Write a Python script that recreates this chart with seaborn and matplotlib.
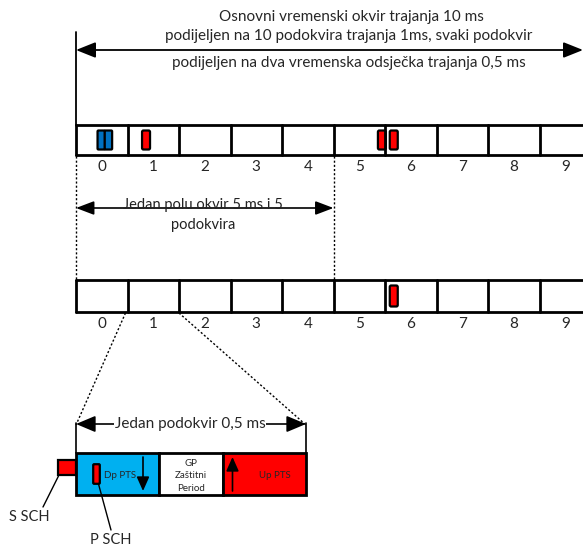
import matplotlib
matplotlib.use('Agg')
import matplotlib.pyplot as plt
from matplotlib.patches import Rectangle, FancyBboxPatch
import seaborn as sns

# subframes and PSS/SSS positions (in subframe units)
subframes = ['0', '1', '2', '3', '4', '5', '6', '7', '8', '9']
row1_blue = [0.56]
row1_red = [1.36, 5.94, 6.17]
row2_red = [6.17]
top_text = ['Osnovni vremenski okvir trajanja 10 ms',
            'podijeljen na 10 podokvira trajanja 1ms, svaki podokvir',
            'podijeljen na dva vremenska odsječka trajanja 0,5 ms']
half_text = ['Jedan polu okvir 5 ms i 5', 'podokvira']
sub_text = 'Jedan podokvir 0,5 ms'
parts = ['Dp PTS', 'GP\nZaštitni\nPeriod', 'Up PTS']
part_colors = ['#00B0F0', '#FFFFFF', '#FF0000']
part_widths = [83, 64, 83]

sns.set_theme(style='white')
plt.rcParams['font.family'] = ['Lato', 'DejaVu Sans']

fig = plt.figure(figsize=(5.83, 5.48), dpi=100)
ax = fig.add_axes([0, 0, 1, 1])
ax.set_xlim(0, 583)
ax.set_ylim(548, 0)
ax.axis('off')

x0 = 76
cw = 51.5


def sx(v):
    return x0 + v * cw


def arrow(xa, xb, y, lw=1.3, hl=1.0, hw=0.4, ms=12):
    ax.annotate('', xy=(xb, y), xytext=(xa, y),
                arrowprops=dict(arrowstyle='<|-|>,head_length=%g,head_width=%g' % (hl, hw),
                                mutation_scale=ms, color='black', lw=lw,
                                shrinkA=0, shrinkB=0))


def frame_row(ytop, ybot, reds, blues):
    ax.plot([x0, 583], [ytop, ytop], color='black', lw=2)
    ax.plot([x0, 583], [ybot, ybot], color='black', lw=2)
    for i in range(len(subframes)):
        ax.plot([sx(i), sx(i)], [ytop, ybot], color='black', lw=2)
        ax.text(sx(i + 0.5), ybot + 12, subframes[i], ha='center', va='center', fontsize=11)
    for r in reds:
        ax.add_patch(FancyBboxPatch((sx(r) - 3.5, ytop + 6), 7, ybot - ytop - 12,
                                    boxstyle='round,pad=0.5,rounding_size=1.5',
                                    fc='#FF0000', ec='black', lw=1.6))
    for b in blues:
        for dx in (-3.6, 3.6):
            ax.add_patch(FancyBboxPatch((sx(b) + dx - 3.2, ytop + 6), 6.4, ybot - ytop - 12,
                                        boxstyle='round,pad=0.5,rounding_size=1',
                                        fc='#0070C0', ec='black', lw=1.6))


# top annotation
ax.plot([x0, x0], [32, 125], color='black', lw=1.3)
arrow(x0, 583, 50)
ax.text(351, 17, top_text[0], ha='center', va='center', fontsize=11)
ax.text(349, 36, top_text[1], ha='center', va='center', fontsize=11)
ax.text(349, 63, top_text[2], ha='center', va='center', fontsize=11)

frame_row(125, 155, row1_red, row1_blue)

# half frame
for xx in (sx(0), sx(5)):
    ax.plot([xx, xx], [156, 280], color='black', lw=1, ls=(0, (1.5, 1.5)))
arrow(sx(0), sx(5), 208, lw=1.2, hl=1.0, hw=0.38, ms=11)
ax.text(203, 205, half_text[0], ha='center', va='center', fontsize=10.5, color='#222222')
ax.text(203, 225, half_text[1], ha='center', va='center', fontsize=10.5, color='#222222')

frame_row(280, 312, row2_red, [])

# zoom lines to one slot
bx0, by0, by1 = 76, 453, 495
bx1 = bx0 + sum(part_widths)
ax.plot([sx(1) - 2, bx0], [313, 425], color='black', lw=1, ls=(0, (1.5, 1.5)))
ax.plot([sx(2), bx1], [313, 425], color='black', lw=1, ls=(0, (1.5, 1.5)))
for xx in (bx0, bx1):
    ax.plot([xx, xx], [423, by0], color='black', lw=1.2)
arrow(bx0, bx1, 424, lw=1.2, hl=1.0, hw=0.42, ms=12)
ax.text((bx0 + bx1) / 2 - 1, 424, sub_text, ha='center', va='center', fontsize=11,
        bbox=dict(fc='white', ec='none', pad=0.5))

# slot parts
xx = bx0
for name, c, w in zip(parts, part_colors, part_widths):
    ax.add_patch(Rectangle((xx, by0), w, by1 - by0, fc=c, ec='black', lw=2))
    if name == 'Dp PTS':
        ax.text(xx + 44, 475, name, ha='center', va='center', fontsize=7)
        arrow_x = xx + 67
        ax.annotate('', xy=(arrow_x, 491), xytext=(arrow_x, 457),
                    arrowprops=dict(arrowstyle='-|>,head_length=0.85,head_width=0.38',
                                    mutation_scale=10, color='black', lw=1.2,
                                    shrinkA=0, shrinkB=0))
    elif name == 'Up PTS':
        ax.text(xx + 52, 476, name, ha='center', va='center', fontsize=7)
        arrow_x = xx + 9.5
        ax.annotate('', xy=(arrow_x, 457), xytext=(arrow_x, 491),
                    arrowprops=dict(arrowstyle='-|>,head_length=0.85,head_width=0.38',
                                    mutation_scale=10, color='black', lw=1.2,
                                    shrinkA=0, shrinkB=0))
    else:
        ax.text(xx + w / 2, 476, name, ha='center', va='center', fontsize=7,
                linespacing=1.5)
    xx += w

# S SCH / P SCH
ax.add_patch(Rectangle((58, 460), 18, 15, fc='#FF0000', ec='black', lw=1.6))
ax.plot([58.5, 43], [476, 507], color='black', lw=1)
ax.text(29, 517, 'S SCH', ha='center', va='center', fontsize=10.5)
ax.add_patch(FancyBboxPatch((94, 465), 5, 18, boxstyle='round,pad=0.8,rounding_size=1',
                            fc='#FF0000', ec='black', lw=1.6))
ax.plot([98.5, 111], [484, 530], color='black', lw=1)
ax.text(111, 540, 'P SCH', ha='center', va='center', fontsize=10.5)

fig.savefig('out.png', dpi=100)
